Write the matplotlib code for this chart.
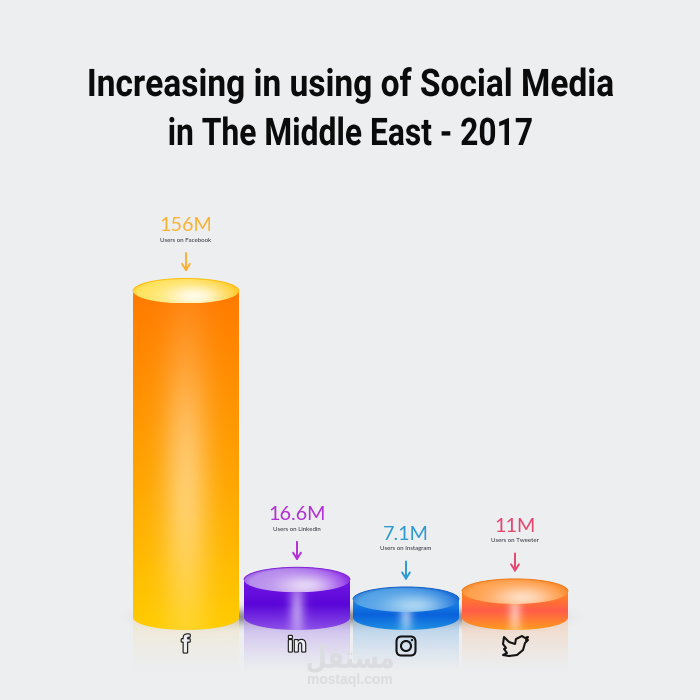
#!/usr/bin/env python3

import numpy as np
import matplotlib
matplotlib.use("Agg")
import matplotlib.pyplot as plt
import matplotlib.patheffects as pe
from matplotlib.colors import to_rgb
from matplotlib.patches import Ellipse, Polygon, Circle, FancyBboxPatch, Arc
from matplotlib.transforms import Affine2D

# Data
platforms = ["Facebook", "Linkedin", "Instagram", "Tweeter"]
users = [156, 16.6, 7.1, 11]
value_labels = ["156M", "16.6M", "7.1M", "11M"]
sub_labels = ["Users on Facebook", "Users on Linkedin", "Users on Instagram", "Users on Tweeter"]
title_lines = ["Increasing in using of Social Media", "in The Middle East - 2017"]

label_colors = ["#F9B233", "#B32FD6", "#2C9AD0", "#E8456F"]
body_top = ["#FF7A00", "#7418E4", "#1E8CE6", "#FF8A1E"]
body_mid = ["#FFA000", "#5A06D8", "#0A62DC", "#FF5C48"]
body_bot = ["#FFCC00", "#8C50E8", "#1E90E2", "#FF9C1E"]
cap_left = ["#FFE35A", "#B58CEC", "#4FA0E6", "#FF9E48"]
cap_out = ["#FFC81E", "#8A24E8", "#0F6CDC", "#FF8C2C"]
cap_in = ["#FFFBE6", "#E4D4F6", "#A8D4F2", "#FFDcc0"]
rim = ["#FFBE10", "#7E20D8", "#125FC4", "#EE7A18"]
reflect = ["#F3E6C4", "#B79AEE", "#94C0EA", "#F6CDB0"]
body_glow = [(0.42, 0.45, 0.42), (0.5, 0.15, 0.6), (0.5, 0.13, 0.6), (0.5, 0.13, 0.6)]

BG = "#ECEEF0"
BAR_X = [186, 297, 406, 515]
PX = 2.072     # pixels per million users
HALF_W = 53    # bar half width, pixels
HALF_H = 12.5  # ellipse half height, pixels
BASE = 3.3     # base ellipse sits this far below zero, pixels
Y0 = 614.2


class Squeeze(pe.AbstractPathEffect):
    # rescales a text about a pixel position
    def __init__(self, sx, cx, sy=1, cy=0):
        super().__init__()
        self.sx, self.cx, self.sy, self.cy = sx, cx, sy, cy

    def draw_path(self, renderer, gc, tpath, affine, rgbFace=None):
        sq = Affine2D().translate(-self.cx, -self.cy).scale(self.sx, self.sy).translate(self.cx, self.cy)
        renderer.draw_path(gc, tpath, affine + sq, rgbFace)


fig = plt.figure(figsize=(7, 7), dpi=100, facecolor=BG)
ax = fig.add_axes([0, 0, 1, 1])
ax.axis("off")
xlim = (0, 700)
ylim = ((Y0 - 700) / PX, Y0 / PX)
hh = HALF_H / PX
base = -BASE / PX


def mix(c1, c2, t):
    c1 = np.array(to_rgb(c1))
    c2 = np.array(to_rgb(c2))
    return c1[None, None, :] * (1 - t[..., None]) + c2[None, None, :] * t[..., None]


def paint(rgba, extent, clip, z):
    im = ax.imshow(rgba, extent=extent, origin="upper", aspect="auto", zorder=z,
                   interpolation="bilinear")
    im.set_clip_path(clip)
    return im


# soft shadow on the floor
yy, xx = np.mgrid[-1:1:80j, -1:1:400j]
sh = np.zeros((80, 400, 4))
sh[..., 3] = 0.38 * np.exp(-(yy / 0.3) ** 2) * np.clip((1 - np.abs(xx)) * 3, 0, 1) ** 2
ax.imshow(sh, extent=(112, 592, base - 13, base + 13), aspect="auto", zorder=1)

for i, v in enumerate(users):
    x = BAR_X[i]
    theta = np.linspace(np.pi, 2 * np.pi, 60)
    arc_x = x + HALF_W * np.cos(theta)
    arc_y = base + hh * np.sin(theta)

    # reflection under the bar
    t = np.linspace(0, 1, 80)[:, None] * np.ones((80, 60))
    ref = np.zeros((80, 60, 4))
    ref[..., :3] = np.array(to_rgb(reflect[i]))
    ref[..., 3] = 0.7 * (1 - t) ** 1.3
    ref_y = base - hh - 42 / PX
    ref_shape = Polygon(np.r_[np.c_[arc_x, arc_y],
                              [[x + HALF_W, ref_y], [x - HALF_W, ref_y]]], closed=True,
                        transform=ax.transData, fc="none", ec="none")
    ax.add_patch(ref_shape)
    paint(ref, (x - HALF_W, x + HALF_W, ref_y, base), ref_shape, 2)

    # cylinder side
    n = 160
    ty = np.linspace(0, 1, n)[:, None] * np.ones((n, 200))
    tx = np.ones((n, 1)) * np.linspace(-1, 1, 200)[None, :]
    upper = mix(body_top[i], body_mid[i], np.clip(ty * 2, 0, 1))
    lower = mix(body_mid[i], body_bot[i], np.clip(ty * 2 - 1, 0, 1))
    col = np.where(ty[..., None] < 0.5, upper, lower)
    amp, sx, sy = body_glow[i]
    glow = amp * np.exp(-(tx / sx) ** 2 - ((ty - 0.58) / sy) ** 2)
    col = col * (1 - glow[..., None]) + glow[..., None]
    side = Polygon(np.r_[[[x - HALF_W, v]], np.c_[arc_x, arc_y], [[x + HALF_W, v]]], closed=True,
                   transform=ax.transData, fc="none", ec="none")
    ax.add_patch(side)
    paint(col, (x - HALF_W, x + HALF_W, base - hh, v), side, 3)

    # top ellipse
    cap = Ellipse((x, v), 2 * HALF_W, 2 * hh, fc="none", ec="none", transform=ax.transData)
    ax.add_patch(cap)
    yy, xx = np.mgrid[-1:1:80j, -1:1:200j]
    cap_col = mix(cap_left[i], cap_out[i], np.clip((xx + 1) / 2, 0, 1) ** 2)
    shine = np.exp(-((xx - 0.15) / 0.6) ** 2 - ((yy - 0.5) / 1.0) ** 2)[..., None]
    cap_col = cap_col * (1 - shine) + np.array(to_rgb(cap_in[i])) * shine
    d = np.sqrt(xx ** 2 + ((yy - 0.3) / 1.3) ** 2)
    top_edge = np.clip((d - 0.88) / 0.2, 0, 1)[..., None] * 0.5
    cap_col = cap_col * (1 - top_edge) + np.array(to_rgb(rim[i])) * top_edge
    paint(np.clip(cap_col, 0, 1), (x - HALF_W, x + HALF_W, v - hh, v + hh), cap, 4)
    ax.add_patch(Arc((x, v), 2 * HALF_W, 2 * hh, theta1=0, theta2=180, color=rim[i], lw=0.7, zorder=5))

    # labels and arrow
    ax.annotate(value_labels[i], (x, v), xytext=(0, 65), textcoords="offset pixels",
                ha="center", va="center", fontsize=14.2, color=label_colors[i],
                family="Lato", zorder=6)
    ax.annotate(sub_labels[i], (x, v), xytext=(0, 50.5), textcoords="offset pixels",
                ha="center", va="center", fontsize=4.4, color="#2C2F36",
                family="Lato", zorder=6)
    ax.annotate("", xy=(x, v + 19 / PX), xytext=(x, v + 38 / PX),
                arrowprops=dict(arrowstyle="->,head_width=0.28,head_length=0.45",
                                color=label_colors[i], lw=1.4, shrinkA=0, shrinkB=0),
                zorder=6)

ax.set_xlim(xlim)
ax.set_ylim(ylim)

# overlay in pixel coordinates for title, icons and watermark
deco = fig.add_axes([0, 0, 1, 1], xlim=(0, 700), ylim=(700, 0))
deco.axis("off")
deco.patch.set_alpha(0)

for y, line, sq in zip([96, 145], title_lines, [0.88, 0.835]):
    deco.text(350, y, line, ha="center", va="baseline", fontsize=27.4, fontweight="bold",
              family="Roboto", color="#0B0B0B", path_effects=[Squeeze(sq, 350)])

# watermark
deco.text(350, 659, "\ufede\ufed8\ufe98\ufeb4\ufee3", ha="center", va="center", fontsize=17.5,
          fontweight="bold", family="DejaVu Sans", color="#DADCDF",
          path_effects=[Squeeze(1, 350, 1.25, 41)])
deco.text(350, 680, "mostaql.com", ha="center", va="center", fontsize=10, fontweight="bold",
          family="Liberation Sans", color="#DADCDF")

outline = [pe.withStroke(linewidth=1.6, foreground="#151515")]
deco.text(185.5, 645.5, "f", ha="center", va="center", fontsize=18, color=BG,
          family="Liberation Sans", fontweight="bold", path_effects=outline)
deco.text(297, 646, "in", ha="center", va="center", fontsize=15.5, color=BG,
          family="Liberation Sans", fontweight="bold", path_effects=outline)

# instagram icon
deco.add_patch(FancyBboxPatch((398, 638), 16, 16, boxstyle="round,pad=1.5,rounding_size=5",
                              fc="none", ec="#151515", lw=1.5))
deco.add_patch(Circle((406, 646), 5, fc="none", ec="#151515", lw=1.5))
deco.add_patch(Circle((412, 640), 1.2, fc="#151515", ec="none"))

# twitter icon
bird = [(504, 637), (509, 642), (515, 644), (516, 639), (522, 636), (525, 638),
        (528, 637), (526, 640), (528, 640), (525, 643), (523, 650), (517, 655),
        (509, 656), (503, 655), (507, 653), (504, 649), (506, 648), (503, 644)]
deco.add_patch(Polygon(bird, closed=True, fc="none", ec="#151515", lw=1.5, joinstyle="round"))

fig.savefig("out.png", dpi=100, facecolor=BG)
